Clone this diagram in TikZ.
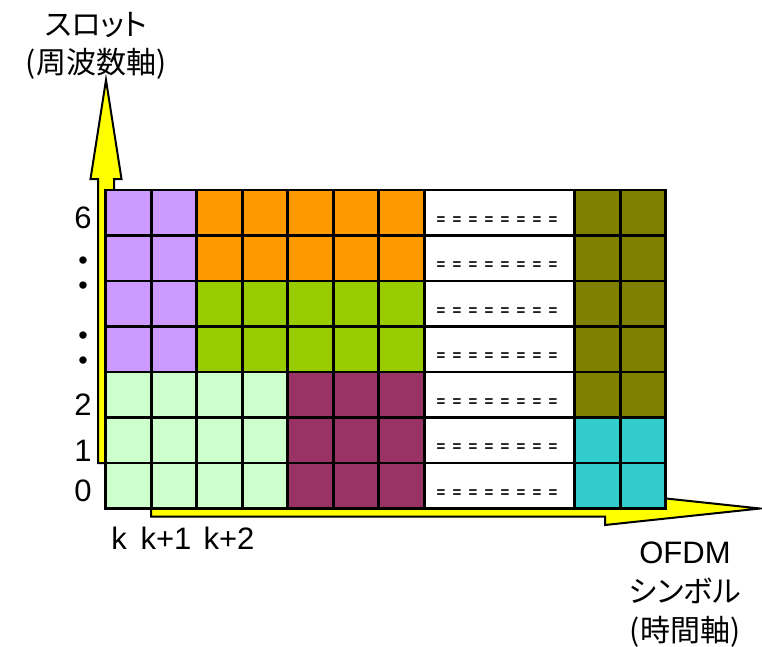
\documentclass[tikz,border=0pt]{standalone}
\usepackage{fontspec}
\setmainfont{Liberation Sans}
\newfontfamily\jp[RawFeature=+palt]{Noto Sans CJK JP}
\definecolor{lav}{HTML}{CC99FF}
\definecolor{org}{HTML}{FF9900}
\definecolor{grn}{HTML}{99CC00}
\definecolor{lgr}{HTML}{CCFFCC}
\definecolor{mar}{HTML}{993366}
\definecolor{olv}{HTML}{808000}
\definecolor{tea}{HTML}{33CCCC}
\definecolor{ylw}{HTML}{FFFF00}
\newcommand{\eqrow}{\fontsize{15}{15}\selectfont\bfseries\makebox[16pt]{=}\makebox[16pt]{=}\makebox[16pt]{=}\makebox[16pt]{=}\makebox[16pt]{=}\makebox[16pt]{=}\makebox[16pt]{=}\makebox[16pt]{=}}
\begin{document}
\begin{tikzpicture}[x=1pt,y=-1pt,
  axisarrow/.style={fill=ylw,draw=black,line width=2pt,line join=miter},
  gridline/.style={draw=black,line width=2.6pt,line cap=rect},
  lbl/.style={inner sep=0pt,font=\fontsize{31}{31}\selectfont},
  dotlbl/.style={inner sep=0pt,font=\fontsize{27}{27}\selectfont},
  jlbl/.style={inner sep=0pt,font=\jp\fontsize{30}{30}\selectfont},
  eqs/.style={inner sep=0pt}]
\useasboundingbox (0,0) rectangle (762,646);
% axes
\draw[axisarrow] (98,463) -- (98,179) -- (90.5,179) -- (106,80) -- (121.5,179) -- (114,179) -- (114,463) -- cycle;
\draw[axisarrow] (151,500.5) -- (605,500.5) -- (605,492) -- (760,508.5) -- (605,525) -- (605,516.5) -- (151,516.5) -- cycle;
% grid
\begin{scope}[shift={(105.7,190)},x=45.5pt,y=-45.5pt]
\fill[lav] (0,0) rectangle (2,4);
\fill[org] (2,0) rectangle (7,2);
\fill[grn] (2,2) rectangle (7,4);
\fill[lgr] (0,4) rectangle (4,7);
\fill[mar] (4,4) rectangle (7,7);
\fill[white] (7,0) rectangle (10.3077,7);
\fill[olv] (10.3077,0) rectangle (12.3077,5);
\fill[tea] (10.3077,5) rectangle (12.3077,7);
\foreach \i in {0,...,7} \draw[gridline] (0,\i) -- (12.3077,\i);
\foreach \i in {0,...,7} \draw[gridline] (\i,0) -- (\i,7);
\foreach \i in {10.3077,11.3077,12.3077} \draw[gridline] (\i,0) -- (\i,7);
\foreach \r in {0,...,6} \node[eqs] (eq\r) at (8.6,\r+0.67) {\eqrow};
\end{scope}
% row labels
\node[lbl] (r6) at (83,218) {6};
\node[dotlbl] (d1) at (83,263) {•};
\node[dotlbl] (d2) at (83,288) {•};
\node[dotlbl] (d3) at (83,338) {•};
\node[dotlbl] (d4) at (83,363) {•};
\node[lbl] (r2) at (83,405) {2};
\node[lbl] (r1) at (83,451) {1};
\node[lbl] (r0) at (83,491) {0};
% column labels
\node[lbl,anchor=base] (ck) at (119,549) {k};
\node[lbl,anchor=base] (ck1) at (166,549) {k+1};
\node[lbl,anchor=base] (ck2) at (229,549) {k+2};
% axis titles
\node[jlbl] (yt1) at (96,25) {スロット};
\node[jlbl] (yt2) at (96,64) {(周波数軸)};
\node[lbl] (xt1) at (685,553) {OFDM};
\node[jlbl] (xt2) at (685,591) {シンボル};
\node[jlbl] (xt3) at (685,632) {(時間軸)};
\end{tikzpicture}
\end{document}
